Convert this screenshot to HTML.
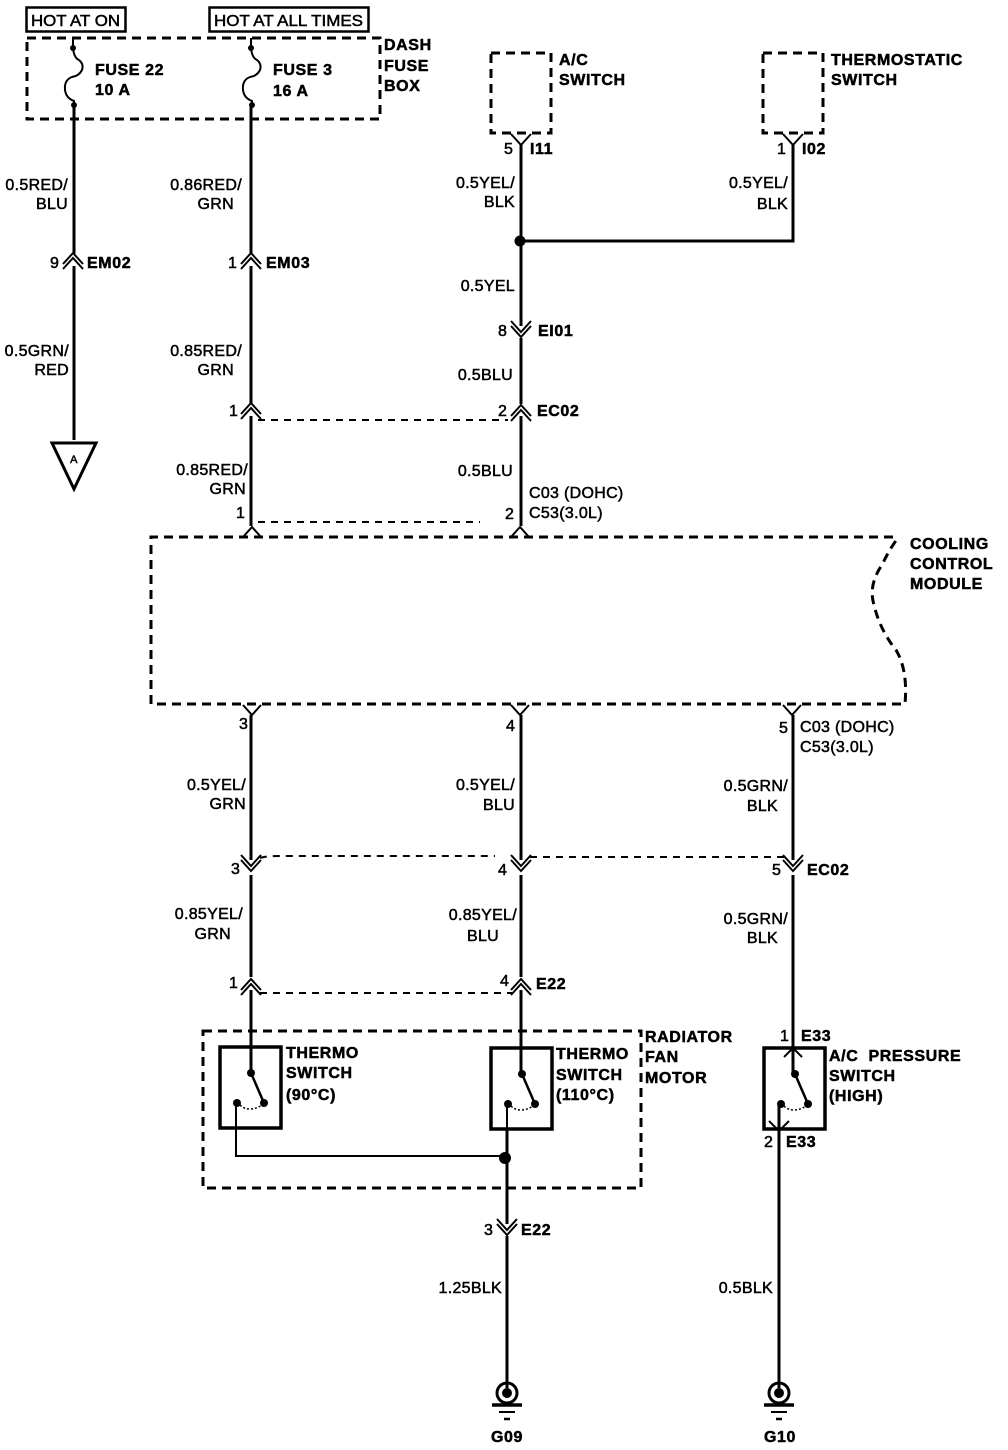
<!DOCTYPE html>
<html><head><meta charset="utf-8"><style>
html,body{margin:0;padding:0;background:#fff;width:1008px;height:1450px;overflow:hidden}
svg{display:block}
text{font-family:"Liberation Sans",sans-serif;font-size:16px;letter-spacing:.3px;fill:#000;stroke:#000;stroke-width:.5px}
.b{font-weight:bold;font-size:16px;letter-spacing:.6px;stroke-width:.5px}
.e{text-anchor:end}
.m{text-anchor:middle}
.w{fill:none;stroke:#000;stroke-width:3}
.t{fill:none;stroke:#000;stroke-width:2}
.d{fill:none;stroke:#000;stroke-width:3;stroke-dasharray:9 6}
.s{fill:none;stroke:#000;stroke-width:2;stroke-dasharray:7 6}
</style></head><body>
<svg width="1008" height="1450" viewBox="0 0 1008 1450" xmlns="http://www.w3.org/2000/svg">
<defs>
<g id="up"><path d="M-10 6L0-5L10 6M-10 11L0 0L10 11" fill="none" stroke="#000" stroke-width="2"/></g>
<g id="dn"><path d="M-10-6L0 5L10-6M-10-11L0 0L10-11" fill="none" stroke="#000" stroke-width="2"/></g>
<g id="sw"><rect x="0" y="0" width="61" height="81" fill="none" stroke="#000" stroke-width="3.5"/>
<circle cx="31" cy="26" r="4"/><circle cx="44" cy="56" r="4"/><circle cx="17" cy="56" r="4"/>
<path d="M31 26L44 56" stroke="#000" stroke-width="2.5"/><path d="M20 58Q24 62 30 62T42 58" fill="none" stroke="#000" stroke-width="1.5" stroke-dasharray="2 2"/></g>
<g id="gnd"><ellipse cx="0" cy="-1" rx="10" ry="10" fill="none" stroke="#000" stroke-width="3"/><circle cx="0" cy="-1" r="5"/>
<path d="M-15 11H15" stroke="#000" stroke-width="3.5"/><path d="M-8 18H8" stroke="#000" stroke-width="2"/><path d="M-3 25H3" stroke="#000" stroke-width="2.5"/></g>
</defs>

<!-- top labels -->
<rect x="26.5" y="7.5" width="99" height="24" fill="none" stroke="#000" stroke-width="2.5"/>
<text x="31" y="26" style="letter-spacing:0" textLength="89" lengthAdjust="spacingAndGlyphs">HOT AT ON</text>
<rect x="209.5" y="7.5" width="159" height="24" fill="none" stroke="#000" stroke-width="2.5"/>
<text x="214" y="26" style="letter-spacing:0" textLength="149" lengthAdjust="spacingAndGlyphs">HOT AT ALL TIMES</text>

<!-- dash fuse box -->
<path class="d" d="M27 38H380V119H27Z"/>
<text class="b" x="384" y="50">DASH</text><text class="b" x="384" y="71">FUSE</text><text class="b" x="384" y="91">BOX</text>
<path class="t" d="M73 38V48"/><circle cx="73" cy="48" r="3"/>
<path class="t" d="M73 48Q74 58 79 60Q84 64 82 70Q79 76 72 77Q64 80 65 90Q66 98 74 101V106"/><circle cx="74" cy="105" r="3"/>
<path class="t" d="M251 38V48"/><circle cx="251" cy="48" r="3"/>
<path class="t" d="M251 48Q252 58 257 60Q262 64 260 70Q257 76 250 77Q242 80 243 90Q244 98 252 101V106"/><circle cx="252" cy="105" r="3"/>
<text class="b" x="95" y="75">FUSE 22</text><text class="b" x="95" y="95">10 A</text>
<text class="b" x="273" y="75">FUSE 3</text><text class="b" x="273" y="96">16 A</text>

<!-- left wires -->
<path class="w" d="M74 106V254"/><path class="w" d="M74 266V440"/>
<use href="#up" x="73" y="258"/>
<path class="w" d="M251 106V254M251 266V404M251 416V526"/>
<use href="#up" x="251" y="258"/><use href="#up" x="251" y="408"/>
<text class="e" x="68" y="190">0.5RED/</text><text class="e" x="68" y="209">BLU</text>
<text x="50" y="268">9</text><text class="b" x="87" y="268">EM02</text>
<text class="e" x="69" y="356">0.5GRN/</text><text class="e" x="69" y="375">RED</text>
<path d="M52 443H96L74 489Z" fill="none" stroke="#000" stroke-width="3"/>
<text class="m" x="74" y="463" style="font-size:11px">A</text>

<text class="e" x="242" y="190">0.86RED/</text><text class="e" x="234" y="209">GRN</text>
<text x="228" y="268">1</text><text class="b" x="266" y="268">EM03</text>
<text class="e" x="242" y="356">0.85RED/</text><text class="e" x="234" y="375">GRN</text>
<text x="229" y="416">1</text>
<text class="e" x="248" y="475">0.85RED/</text><text class="e" x="246" y="494">GRN</text>
<text x="236" y="518">1</text>
<path class="s" d="M258 420H508"/><path class="s" d="M258 522H480"/>

<!-- A/C switch & thermostatic -->
<rect x="491" y="53" width="60" height="80" fill="none" stroke="#000" stroke-width="3" stroke-dasharray="9 6"/>
<rect x="763" y="53" width="60" height="80" fill="none" stroke="#000" stroke-width="3" stroke-dasharray="9 6"/>
<text class="b" x="559" y="65">A/C</text><text class="b" x="559" y="85">SWITCH</text>
<text class="b" x="831" y="65">THERMOSTATIC</text><text class="b" x="831" y="85">SWITCH</text>
<path d="M511 134L521 145L531 134M783 134L793 145L803 134" fill="none" stroke="#000" stroke-width="2"/>
<text x="504" y="154">5</text><text class="b" x="530" y="154">I11</text>
<text x="777" y="154">1</text><text class="b" x="802" y="154">I02</text>
<path class="w" d="M521 145V326M521 338V404M521 416V526"/>
<path class="w" d="M793 145V241H521"/><circle cx="520" cy="241" r="5.5"/>
<text class="e" x="515" y="188">0.5YEL/</text><text class="e" x="515" y="207">BLK</text>
<text class="e" x="788" y="188">0.5YEL/</text><text class="e" x="788" y="209">BLK</text>
<text class="e" x="515" y="291">0.5YEL</text>
<use href="#dn" x="521" y="332"/><text x="498" y="336">8</text><text class="b" x="538" y="336">EI01</text>
<text class="e" x="513" y="380">0.5BLU</text>
<use href="#up" x="521" y="410"/><text x="498" y="416">2</text><text class="b" x="537" y="416">EC02</text>
<text class="e" x="513" y="476">0.5BLU</text>
<text x="505" y="519">2</text>
<text x="529" y="498">C03 (DOHC)</text><text x="529" y="518">C53(3.0L)</text>
<path d="M243 537L252 527L261 537M511 537L520 527L529 537" fill="none" stroke="#000" stroke-width="2"/>

<!-- cooling control module -->
<path class="d" d="M893 537H151V704H905Q908 670 896 650Q880 630 874 605Q868 585 882 565Q890 548 898 538"/>
<text class="b" x="910" y="549">COOLING</text><text class="b" x="910" y="569">CONTROL</text><text class="b" x="910" y="589">MODULE</text>

<path d="M243 705L252 715L261 705M511 705L520 715L529 705M783 705L792 715L801 705" fill="none" stroke="#000" stroke-width="2"/>
<path class="w" d="M251 715V860M251 875V977M251 990V1046"/>
<path class="w" d="M521 715V860M521 875V977M521 990V1046"/>
<path class="w" d="M793 715V860M793 875V1046"/>
<text x="239" y="729">3</text><text x="506" y="731">4</text><text x="779" y="733">5</text>
<text x="800" y="732">C03 (DOHC)</text><text x="800" y="752">C53(3.0L)</text>
<text class="e" x="246" y="790">0.5YEL/</text><text class="e" x="246" y="809">GRN</text>
<text class="e" x="515" y="790">0.5YEL/</text><text class="e" x="515" y="810">BLU</text>
<text class="e" x="788" y="791">0.5GRN/</text><text class="e" x="778" y="811">BLK</text>
<use href="#dn" x="251" y="866"/><use href="#dn" x="521" y="866"/><use href="#dn" x="793" y="866"/>
<text x="231" y="874">3</text><text x="498" y="875">4</text><text x="772" y="875">5</text><text class="b" x="807" y="875">EC02</text>
<path class="s" d="M260 858Q265 856 280 856H495"/><path class="s" d="M530 857H784"/>
<text class="e" x="243" y="919">0.85YEL/</text><text class="e" x="231" y="939">GRN</text>
<text class="e" x="517" y="920">0.85YEL/</text><text class="e" x="499" y="941">BLU</text>
<text class="e" x="788" y="924">0.5GRN/</text><text class="e" x="778" y="943">BLK</text>
<use href="#up" x="251" y="984"/><use href="#up" x="521" y="984"/>
<text x="229" y="988">1</text><text x="500" y="986">4</text><text class="b" x="536" y="989">E22</text>
<path class="s" d="M260 993H512"/>

<!-- radiator fan motor -->
<path class="d" d="M203 1031H641V1188H203Z"/>
<text class="b" x="645" y="1042">RADIATOR</text><text class="b" x="645" y="1062">FAN</text><text class="b" x="645" y="1083">MOTOR</text>
<use href="#sw" x="220" y="1047"/><use href="#sw" x="491" y="1048"/>
<text class="b" x="286" y="1058">THERMO</text><text class="b" x="286" y="1078">SWITCH</text><text class="b" x="286" y="1100">(90°C)</text>
<text class="b" x="556" y="1059">THERMO</text><text class="b" x="556" y="1080">SWITCH</text><text class="b" x="556" y="1100">(110°C)</text>
<path class="w" d="M251 1046V1073M521 1046V1074"/>
<path class="t" d="M236 1103V1156H506"/><circle cx="505" cy="1158" r="6"/>
<path class="t" d="M507 1104V1129"/>
<path class="w" d="M507 1129V1224M507 1236V1388"/>
<use href="#dn" x="507" y="1230"/>
<text x="484" y="1235">3</text><text class="b" x="521" y="1235">E22</text>
<text class="e" x="502" y="1293">1.25BLK</text>
<use href="#gnd" x="507" y="1394"/>
<text class="b m" x="507" y="1442">G09</text>

<!-- A/C pressure switch -->
<use href="#sw" x="764" y="1048"/>
<path d="M784 1057L793 1048L802 1057M769 1121L779 1131L789 1121" fill="none" stroke="#000" stroke-width="2"/>
<path class="w" d="M793 1046V1076M779 1103V1388"/>
<text x="780" y="1041">1</text><text class="b" x="801" y="1041">E33</text>
<text class="b" x="829" y="1061">A/C&#160;&#160;PRESSURE</text><text class="b" x="829" y="1081">SWITCH</text><text class="b" x="829" y="1101">(HIGH)</text>
<text x="764" y="1147">2</text><text class="b" x="786" y="1147">E33</text>
<text class="e" x="773" y="1293">0.5BLK</text>
<use href="#gnd" x="779" y="1394"/>
<text class="b m" x="780" y="1442">G10</text>
</svg>
</body></html>
